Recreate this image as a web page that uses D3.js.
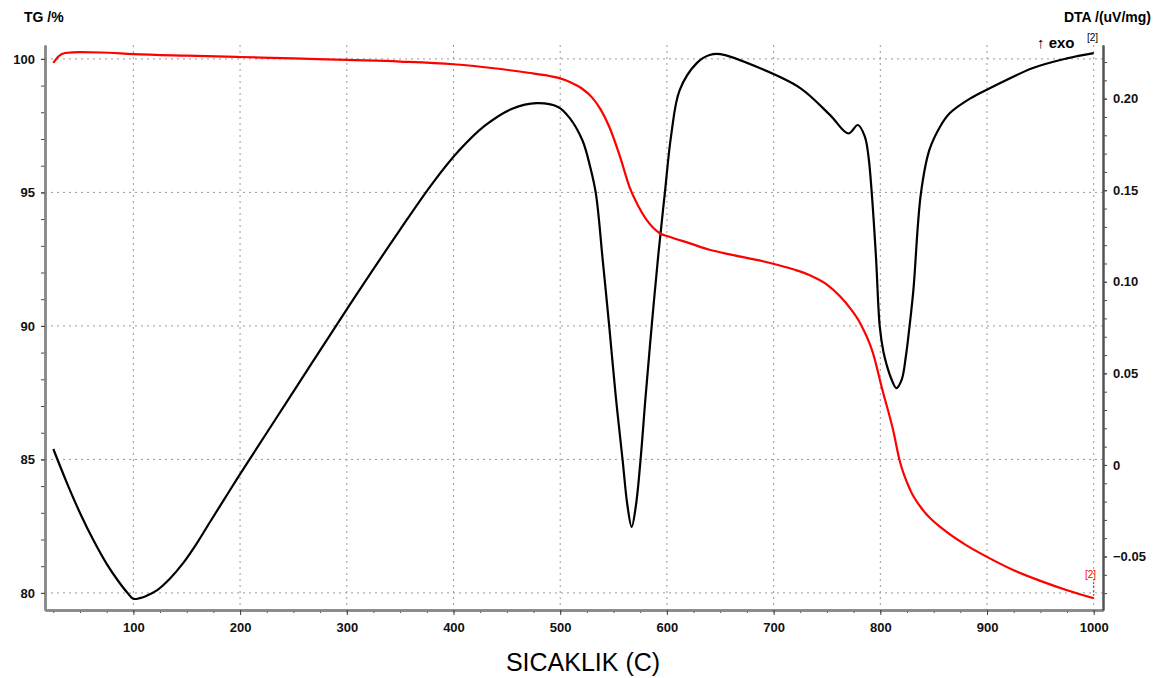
<!DOCTYPE html>
<html>
<head>
<meta charset="utf-8">
<script src="https://cdn.jsdelivr.net/npm/d3@7"></script>
<style>
  body { margin: 0; background: #fff; }
  svg { display: block; font-family: Arial, "Liberation Sans", sans-serif; }
  .grid line { stroke: #999; stroke-width: 1; stroke-dasharray: 2 4; }
  .tick text { font-weight: bold; font-size: 13px; fill: #111; }
</style>
</head>
<body>
<svg id="chart" width="1159" height="678"></svg>
<script>
// TG curve (temperature C, mass %)
const tgTemp = [25, 30, 36, 50, 70, 100, 150, 200, 250, 300, 350, 400, 440, 470, 490, 500, 510, 520, 530, 538, 546, 556, 565, 573, 581, 593, 603, 621, 640, 660, 690, 705, 720, 735, 750, 762, 772, 781, 793, 802, 812, 818, 828, 840, 860, 880, 900, 925, 950, 975, 1000];
const tgMass = [99.85, 100.1, 100.22, 100.25, 100.24, 100.18, 100.12, 100.07, 100.02, 99.96, 99.9, 99.8, 99.64, 99.48, 99.36, 99.27, 99.12, 98.9, 98.55, 98.1, 97.46, 96.35, 95.2, 94.5, 93.97, 93.48, 93.33, 93.1, 92.85, 92.67, 92.42, 92.27, 92.1, 91.88, 91.55, 91.12, 90.65, 90.11, 89.0, 87.6, 86.1, 84.98, 83.86, 83.1, 82.35, 81.8, 81.35, 80.85, 80.45, 80.1, 79.8];

// DTA curve (temperature C, uV/mg)
const dtaTemp = [25, 37.5, 50, 62.5, 75, 86, 94, 100, 106, 111, 122, 134.4, 146.8, 158.7, 172, 186, 200, 250, 300, 350, 380, 405, 430, 455, 478, 498, 509, 521, 528, 533.5, 540, 546, 552, 558.5, 563, 567, 571, 575.3, 580, 585.7, 592, 598, 604, 612, 628, 640, 650, 687, 725, 753, 770, 779, 785.5, 789, 792, 796, 799.5, 803, 806, 810, 815, 820, 824, 827, 831, 838, 846, 856, 865, 884, 903, 943, 975, 1000];
const dtaValue = [0.0087, -0.0095, -0.0262, -0.041, -0.054, -0.0635, -0.0695, -0.0731, -0.0727, -0.0718, -0.0685, -0.062, -0.0535, -0.0435, -0.031, -0.018, -0.005, 0.04, 0.085, 0.1285, 0.1535, 0.1715, 0.1855, 0.1945, 0.1976, 0.1955, 0.1894, 0.177, 0.163, 0.148, 0.111, 0.0755, 0.038, 0.0027, -0.022, -0.0338, -0.022, 0.0027, 0.037, 0.0755, 0.115, 0.148, 0.180, 0.2047, 0.2194, 0.2238, 0.2243, 0.2167, 0.2058, 0.191, 0.181, 0.1856, 0.1793, 0.168, 0.1484, 0.113, 0.0755, 0.0615, 0.0546, 0.0475, 0.042, 0.0465, 0.0595, 0.0737, 0.0955, 0.148, 0.172, 0.1847, 0.192, 0.2, 0.2058, 0.2167, 0.222, 0.2249];

const xTicks = [100, 200, 300, 400, 500, 600, 700, 800, 900, 1000];
const tgTicks = [80, 85, 90, 95, 100];
const dtaTicks = [-0.05, 0, 0.05, 0.10, 0.15, 0.20];

const svg = d3.select("#chart");
const plot = { left: 45, right: 1103, top: 45, bottom: 610 };

const x = d3.scaleLinear().domain([17.2, 1008.7]).range([plot.left, plot.right]);
const yTg = d3.scaleLinear().domain([79.36, 100.52]).range([plot.bottom, plot.top]);
const yDta = d3.scaleLinear().domain([-0.0792, 0.2293]).range([plot.bottom, plot.top]);

// grid
const grid = svg.append("g").attr("class", "grid");
grid.selectAll(".vx").data(xTicks).enter().append("line")
  .attr("x1", d => x(d)).attr("x2", d => x(d))
  .attr("y1", plot.top).attr("y2", plot.bottom);
grid.selectAll(".hy").data(tgTicks).enter().append("line")
  .attr("x1", plot.left).attr("x2", plot.right)
  .attr("y1", d => yTg(d)).attr("y2", d => yTg(d));

// axes
const xAxis = d3.axisBottom(x).tickValues(xTicks).tickSize(5).tickSizeOuter(0).tickPadding(8).tickFormat(d3.format("d"));
const xMinor = d3.axisBottom(x).tickValues(d3.range(25, 1001, 25)).tickSize(3).tickFormat("").tickSizeOuter(0);
const yLeft = d3.axisLeft(yTg).tickValues(tgTicks).tickSize(4).tickSizeOuter(0).tickPadding(6);
const yLeftMinor = d3.axisLeft(yTg).tickValues(d3.range(80, 100.5, 1)).tickSize(4).tickFormat("").tickSizeOuter(0);
const yRight = d3.axisRight(yDta).tickValues(dtaTicks).tickSize(4).tickSizeOuter(0).tickPadding(6)
  .tickFormat(d => d === 0 ? "0" : d3.format(".2f")(d));
const yRightMinor = d3.axisRight(yDta).tickValues(d3.range(-0.07, 0.2251, 0.01)).tickSize(4).tickFormat("").tickSizeOuter(0);

function styleAxis(g, color, width) {
  g.select(".domain").attr("stroke", color).attr("stroke-width", width);
  g.selectAll(".tick line").attr("stroke", "#444");
}

svg.append("g").attr("transform", `translate(0,${plot.bottom})`).call(xMinor).call(g => styleAxis(g, "#888", 2.5));
svg.append("g").attr("transform", `translate(0,${plot.bottom})`).call(xAxis).call(g => styleAxis(g, "#888", 2.5));
svg.append("g").attr("transform", `translate(${plot.left},0)`).call(yLeftMinor).call(g => styleAxis(g, "#888", 2.5));
svg.append("g").attr("transform", `translate(${plot.left},0)`).call(yLeft).call(g => styleAxis(g, "#888", 2.5));
svg.append("g").attr("transform", `translate(${plot.right},0)`).call(yRightMinor).call(g => styleAxis(g, "#555", 2));
svg.append("g").attr("transform", `translate(${plot.right},0)`).call(yRight).call(g => styleAxis(g, "#555", 2));

// curves
const tgData = tgTemp.map((t, i) => [t, tgMass[i]]);
const dtaData = dtaTemp.map((t, i) => [t, dtaValue[i]]);

svg.append("path").datum(dtaData)
  .attr("fill", "none").attr("stroke", "#000").attr("stroke-width", 2.2)
  .attr("d", d3.line().x(d => x(d[0])).y(d => yDta(d[1])).curve(d3.curveCatmullRom.alpha(0.5)));

svg.append("path").datum(tgData)
  .attr("fill", "none").attr("stroke", "#ff0000").attr("stroke-width", 2.2)
  .attr("d", d3.line().x(d => x(d[0])).y(d => yTg(d[1])).curve(d3.curveMonotoneX));

// labels
svg.append("text").attr("x", 24).attr("y", 22).attr("font-size", 14).attr("font-weight", "bold").text("TG /%");
svg.append("text").attr("x", 1151).attr("y", 22).attr("text-anchor", "end").attr("font-size", 14).attr("font-weight", "bold").text("DTA /(uV/mg)");
svg.append("text").attr("x", 1037).attr("y", 48).attr("font-size", 15).attr("font-weight", "bold").text("\u2191 exo");
svg.append("text").attr("x", 1087).attr("y", 41).attr("font-size", 10).text("[2]");
svg.append("text").attr("x", 1085).attr("y", 578).attr("font-size", 10).attr("fill", "#ff0000").text("[2]");
svg.append("line").attr("x1", x(1000)).attr("x2", x(1000)).attr("y1", 582).attr("y2", yTg(79.8))
  .attr("stroke", "#ff0000").attr("stroke-width", 1).attr("stroke-dasharray", "2 2");

svg.append("text").attr("x", 583).attr("y", 671).attr("text-anchor", "middle").attr("font-size", 25).text("SICAKLIK (C)");
</script>
</body>
</html>
